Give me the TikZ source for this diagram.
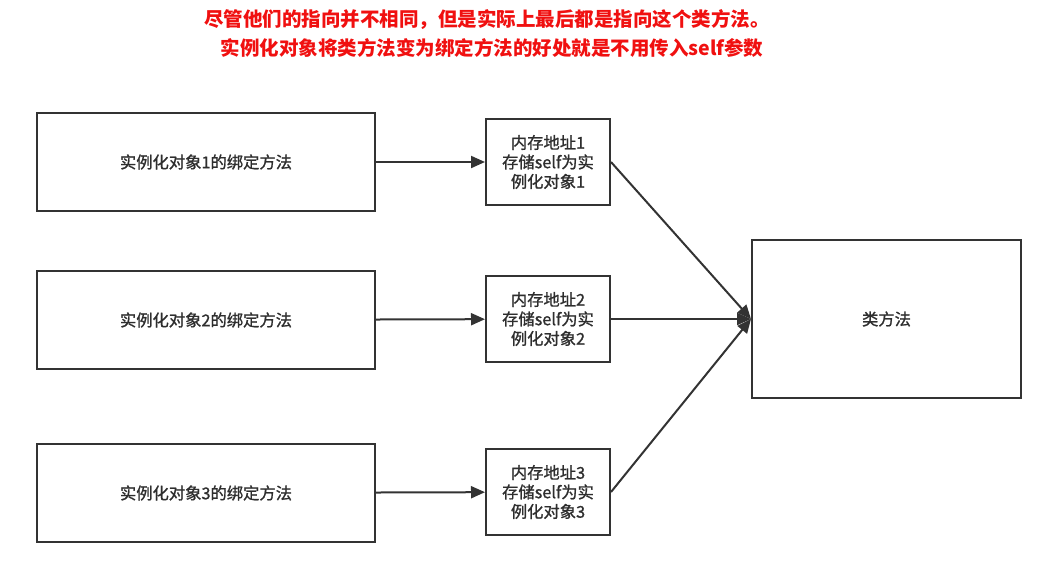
\documentclass[tikz,border=0pt]{standalone}
\usepackage{xcolor}
\usepackage{fontspec}
\setmainfont{Noto Sans CJK SC}
\newfontfamily\cajafont[FakeBold=1.2]{Noto Sans CJK SC}
\usepackage{tikz}
\usetikzlibrary{positioning, arrows.meta}

\definecolor{linea}{HTML}{333333}
\definecolor{rojo}{HTML}{F01010}

\begin{document}
\begin{tikzpicture}[x=1pt, y=-1pt,
	caja/.style={draw=linea, line width=2pt, align=center, font=\cajafont\fontsize{16.3}{19.5}\selectfont, text=linea!90!black},
	flecha/.style={draw=linea, line width=2pt, -{Triangle[length=14pt, width=12pt]}}]
			\useasboundingbox (0,0) rectangle (1057,587);
			
			% Titulo
			\node[text=rojo, font=\fontsize{19.5}{26}\selectfont\bfseries] (tit1) at (487,20) {尽管他们的指向并不相同，但是实际上最后都是指向这个类方法。};
			\node[text=rojo, font=\fontsize{19.5}{26}\selectfont\bfseries] (tit2) at (492,48) {实例化对象将类方法变为绑定方法的好处就是不用传入self参数};
			
			% Metodos ligados
			\node[caja, minimum width=338pt, minimum height=98pt] (obj1) at (206,162) {实例化对象1的绑定方法};
			\node[caja, minimum width=338pt, minimum height=98pt] (obj2) at (206,320) {实例化对象2的绑定方法};
			\node[caja, minimum width=338pt, minimum height=98pt] (obj3) at (206,493) {实例化对象3的绑定方法};
			
			% Direcciones
			\node[caja, minimum width=124pt, minimum height=86pt, inner sep=1pt] (dir1) at (548,162) {内存地址1\\存储self为实\\例化对象1};
			\node[caja, minimum width=124pt, minimum height=86pt, inner sep=1pt] (dir2) at (548,319) {内存地址2\\存储self为实\\例化对象2};
			\node[caja, minimum width=124pt, minimum height=86pt, inner sep=1pt] (dir3) at (548,492) {内存地址3\\存储self为实\\例化对象3};
			
			% Metodo de clase
			\node[caja, minimum width=269pt, minimum height=158pt] (clase) at (886.5,319) {类方法};
			
			% Flechas
			\draw[flecha] (obj1) -- (dir1);
			\draw[flecha] (obj2) -- (dir2);
			\draw[flecha] (obj3) -- (dir3);
			\draw[flecha] (dir1.east) -- (clase.west);
			\draw[flecha] (dir2.east) -- (clase.west);
			\draw[flecha] (dir3.east) -- (clase.west);
			\end{tikzpicture}
\end{document}
